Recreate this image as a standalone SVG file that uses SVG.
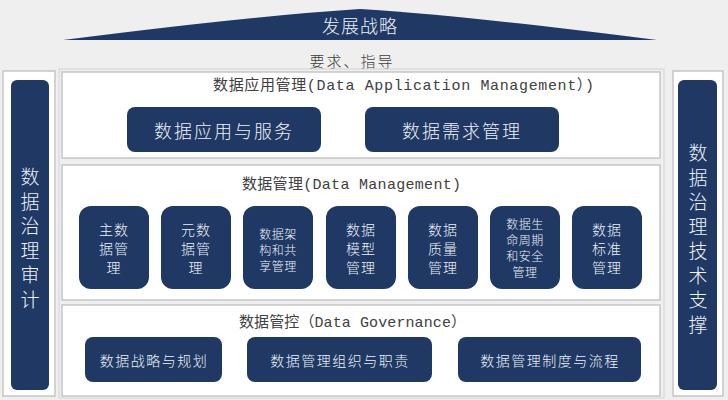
<svg xmlns="http://www.w3.org/2000/svg" width="728" height="400" viewBox="0 0 728 400">
<style>
.bg{fill:#efefef}
.panel{fill:#ffffff;stroke:#c6c6c6;stroke-width:1.5}
.frame{fill:none;stroke:#d4d4d4;stroke-width:1}
.dark{fill:#1f3864}
.title{font-family:"Liberation Mono","Noto Sans CJK SC",monospace;font-size:15px;fill:#404040;text-anchor:middle;dominant-baseline:central}
.lt{font-family:"Noto Sans CJK SC",sans-serif;fill:#eef2f9;text-anchor:middle;dominant-baseline:central;font-weight:300}
.big{font-size:18px;letter-spacing:2px}
.mid{font-size:14px;letter-spacing:1.5px}
.sm{font-size:14px;letter-spacing:1px}
.xs{font-size:12px;letter-spacing:0.5px}
.vert{font-size:19px}
</style>
<rect class="bg" x="0" y="0" width="728" height="400"/>

<g id="strategy">
<path class="dark" d="M63,40 Q250,16 360,9 Q470,16 657,40 Z"/>
<text class="lt" x="360" y="25" style="font-size:18px;letter-spacing:1px">发展战略</text>
</g>
<g id="guide">
<text class="title" x="352" y="60" style="font-family:'Noto Sans CJK SC',sans-serif;font-weight:300;letter-spacing:2px">要求、指导</text>
</g>

<g id="audit">
<rect class="panel" x="3" y="71" width="52" height="325"/>
<rect class="dark" x="11" y="80" width="38" height="310" rx="6"/>
<text class="lt vert" x="30"><tspan x="30" y="175">数</tspan><tspan x="30" y="199.5">据</tspan><tspan x="30" y="224">治</tspan><tspan x="30" y="248.5">理</tspan><tspan x="30" y="273">审</tspan><tspan x="30" y="297.5">计</tspan></text>
</g>

<g id="tech">
<rect class="panel" x="673" y="71" width="50" height="325"/>
<rect class="dark" x="678" y="80" width="39" height="310" rx="6"/>
<text class="lt vert" x="698"><tspan x="698" y="151">数</tspan><tspan x="698" y="175.5">据</tspan><tspan x="698" y="200">治</tspan><tspan x="698" y="224.5">理</tspan><tspan x="698" y="249">技</tspan><tspan x="698" y="273.5">术</tspan><tspan x="698" y="298">支</tspan><tspan x="698" y="322.5">撑</tspan></text>
</g>

<rect class="frame" x="59" y="69" width="605" height="329"/>

<g id="app">
<rect class="panel" x="62" y="72" width="598" height="86"/>
<text class="title" x="403.5" y="86" textLength="381" lengthAdjust="spacing">数据应用管理(Data Application Management）)</text>
<g id="app-service"><rect class="dark" x="127" y="107" width="194" height="45" rx="8"/><text class="lt big" x="224" y="130">数据应用与服务</text></g>
<g id="app-demand"><rect class="dark" x="365" y="107" width="194" height="45" rx="8"/><text class="lt big" x="462" y="130">数据需求管理</text></g>
</g>

<g id="dm">
<rect class="panel" x="62" y="165" width="598" height="135"/>
<text class="title" x="351.5" y="185" textLength="219" lengthAdjust="spacing">数据管理(Data Management)</text>
<g id="dm-master"><rect class="dark" x="79" y="206" width="70" height="83" rx="12"/>
<text class="lt sm"><tspan x="114" y="229">主数</tspan><tspan x="114" y="248">据管</tspan><tspan x="114" y="267">理</tspan></text></g>
<g id="dm-meta"><rect class="dark" x="161" y="206" width="70" height="83" rx="12"/>
<text class="lt sm"><tspan x="196" y="229">元数</tspan><tspan x="196" y="248">据管</tspan><tspan x="196" y="267">理</tspan></text></g>
<g id="dm-arch"><rect class="dark" x="243" y="206" width="70" height="83" rx="12"/>
<text class="lt xs"><tspan x="278" y="233">数据架</tspan><tspan x="278" y="249">构和共</tspan><tspan x="278" y="265">享管理</tspan></text></g>
<g id="dm-model"><rect class="dark" x="326" y="206" width="70" height="83" rx="12"/>
<text class="lt sm"><tspan x="361" y="229">数据</tspan><tspan x="361" y="248">模型</tspan><tspan x="361" y="267">管理</tspan></text></g>
<g id="dm-quality"><rect class="dark" x="408" y="206" width="70" height="83" rx="12"/>
<text class="lt sm"><tspan x="443" y="229">数据</tspan><tspan x="443" y="248">质量</tspan><tspan x="443" y="267">管理</tspan></text></g>
<g id="dm-life"><rect class="dark" x="490" y="206" width="70" height="83" rx="12"/>
<text class="lt xs"><tspan x="525" y="223">数据生</tspan><tspan x="525" y="239">命周期</tspan><tspan x="525" y="255">和安全</tspan><tspan x="525" y="271">管理</tspan></text></g>
<g id="dm-std"><rect class="dark" x="572" y="206" width="70" height="83" rx="12"/>
<text class="lt sm"><tspan x="607" y="229">数据</tspan><tspan x="607" y="248">标准</tspan><tspan x="607" y="267">管理</tspan></text></g>
</g>

<g id="gov">
<rect class="panel" x="62" y="305" width="598" height="91"/>
<text class="title" x="352.5" y="323" textLength="227" lengthAdjust="spacing">数据管控（Data Governance）</text>
<g id="gov-strategy"><rect class="dark" x="85" y="337" width="137" height="45" rx="8"/><text class="lt mid" x="154" y="360">数据战略与规划</text></g>
<g id="gov-org"><rect class="dark" x="247" y="337" width="185" height="45" rx="8"/><text class="lt mid" x="340" y="360">数据管理组织与职责</text></g>
<g id="gov-policy"><rect class="dark" x="458" y="337" width="183" height="45" rx="8"/><text class="lt mid" x="550" y="360">数据管理制度与流程</text></g>
</g>

<g id="connectors"></g>
</svg>
